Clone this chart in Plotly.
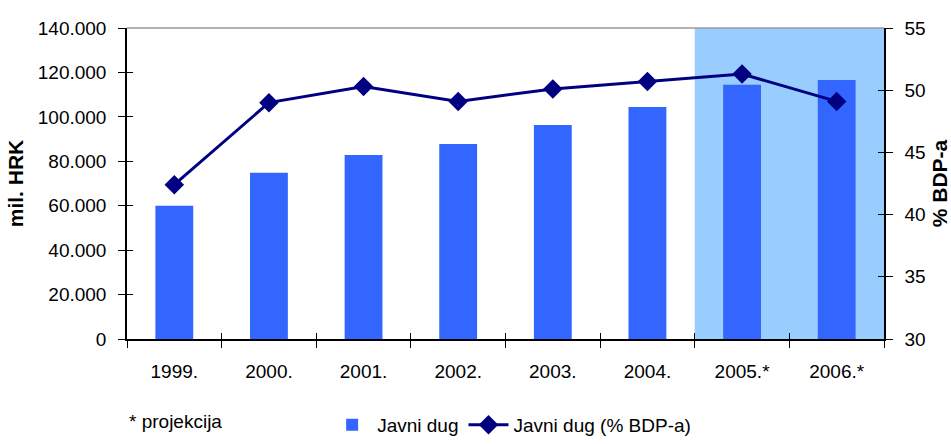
import plotly.graph_objects as go

years = ["1999.", "2000.", "2001.", "2002.", "2003.", "2004.", "2005.*", "2006.*"]
debt_mil_hrk = [60000, 74800, 82800, 87800, 96300, 104400, 114400, 116600]
debt_pct_gdp = [42.4, 49.0, 50.3, 49.1, 50.1, 50.7, 51.3, 49.1]
left_ticks = [0, 20000, 40000, 60000, 80000, 100000, 120000, 140000]
left_tick_text = ["0", "20.000", "40.000", "60.000", "80.000", "100.000", "120.000", "140.000"]
right_ticks = [30, 35, 40, 45, 50, 55]
projection_years = ["2005.*", "2006.*"]

FONT = "Liberation Sans, Arial, sans-serif"
BAR = "#3366FF"
LINE = "#000080"
SHADE = "#99CCFF"

n = len(years)
boundaries = [i + 0.5 for i in range(-1, n)]

fig = go.Figure()
fig.add_trace(go.Bar(
    x=years, y=debt_mil_hrk, name="Javni dug",
    marker=dict(color=BAR, line=dict(width=0)),
    yaxis="y",
))
fig.add_trace(go.Scatter(
    x=years, y=debt_pct_gdp, name="Javni dug (% BDP-a)",
    mode="lines+markers",
    line=dict(color=LINE, width=3),
    marker=dict(symbol="diamond", size=15, color=LINE),
    yaxis="y2",
))
# invisible helper traces so the inner-tick overlay axes are drawn
fig.add_trace(go.Scatter(x=[0], y=[0], xaxis="x2", yaxis="y3", mode="markers",
                         marker=dict(opacity=0), showlegend=False, hoverinfo="skip"))
fig.add_trace(go.Scatter(x=[0], y=[40], xaxis="x2", yaxis="y4", mode="markers",
                         marker=dict(opacity=0), showlegend=False, hoverinfo="skip"))

# shaded projection region
i0 = years.index(projection_years[0]) - 0.5
i1 = years.index(projection_years[-1]) + 0.5
fig.add_shape(type="rect", xref="x", yref="paper", x0=i0, x1=i1, y0=0, y1=1,
              fillcolor=SHADE, line=dict(width=0), layer="below")
# top border of plot area
fig.add_shape(type="line", xref="paper", yref="paper", x0=0, x1=1, y0=1, y1=1,
              line=dict(color="#999999", width=1.5), layer="below")

fig.add_annotation(text="* projekcija", xref="paper", yref="paper",
                   x=0.0, y=-0.265, xanchor="left", yanchor="middle",
                   showarrow=False, font=dict(family=FONT, size=19, color="black"))

inner = dict(showgrid=False, zeroline=False, showline=False, showticklabels=False,
             ticks="inside", ticklen=6, tickcolor="black", tickwidth=1, fixedrange=True)

fig.update_layout(
    width=951, height=444,
    margin=dict(l=127, r=67, t=28, b=105, autoexpand=False),
    paper_bgcolor="white", plot_bgcolor="white",
    font=dict(family=FONT, size=19, color="black"),
    bargap=0.6,
    showlegend=True,
    legend=dict(orientation="h", x=0.538, xanchor="center", xref="container",
                y=0.0, yanchor="bottom", yref="container",
                font=dict(family=FONT, size=19), bgcolor="rgba(0,0,0,0)",
                itemwidth=40, tracegroupgap=0),
    xaxis=dict(
        type="category", showgrid=False, zeroline=False,
        showline=True, linecolor="black", linewidth=1.5,
        ticks="outside", ticklen=7, tickcolor="black", tickson="boundaries",
        ticklabelstandoff=14, tickfont=dict(size=19),
        range=[-0.5, n - 0.5],
    ),
    xaxis2=dict(inner, overlaying="x", anchor="y3", range=[-0.5, n - 0.5],
                tickvals=boundaries),
    yaxis=dict(
        range=[0, 140000], tickvals=left_ticks, ticktext=left_tick_text,
        showgrid=False, zeroline=False,
        showline=True, linecolor="black", linewidth=1.5,
        ticks="outside", ticklen=7, tickcolor="black", ticklabelstandoff=8,
        tickfont=dict(size=19),
        title=dict(text="<b>mil. HRK</b>", font=dict(size=21), standoff=8),
    ),
    yaxis2=dict(
        range=[30, 55], tickvals=right_ticks, overlaying="y", side="right",
        showgrid=False, zeroline=False,
        showline=True, linecolor="black", linewidth=1.5,
        ticks="outside", ticklen=7, tickcolor="black", ticklabelstandoff=8,
        tickfont=dict(size=19),
        title=dict(text="<b>% BDP-a</b>", font=dict(size=21), standoff=10),
    ),
    yaxis3=dict(inner, overlaying="y", side="left", anchor="x2",
                range=[0, 140000], tickvals=left_ticks),
    yaxis4=dict(inner, overlaying="y", side="right", anchor="x2",
                range=[30, 55], tickvals=right_ticks),
)

fig.write_html("out.html")
